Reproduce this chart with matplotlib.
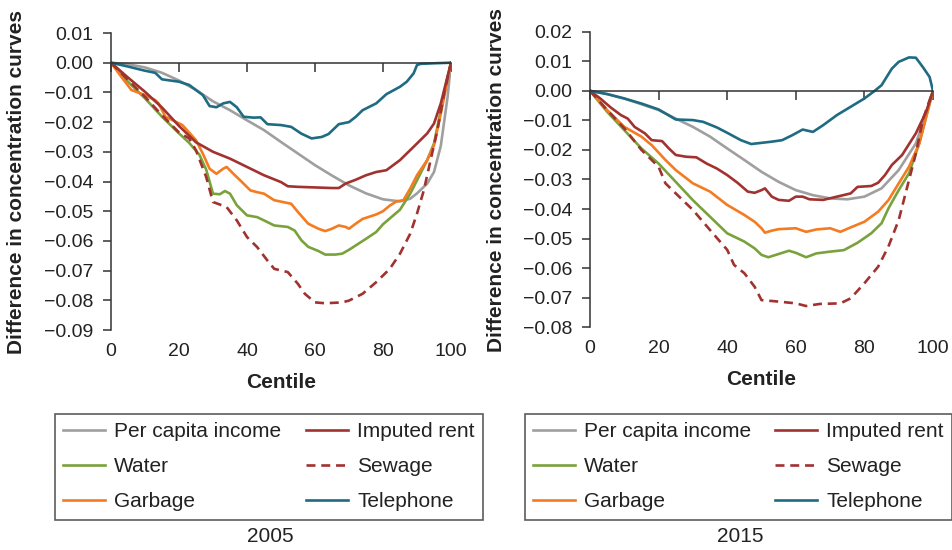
import matplotlib
matplotlib.use("Agg")
import matplotlib.pyplot as plt
from matplotlib.ticker import FuncFormatter

plt.rcParams['font.family'] = ['Liberation Sans', 'DejaVu Sans']

# ---------------- 2005 ----------------
inc05_x = [0, 5, 10, 15, 20, 25, 30, 35, 40, 45, 50, 55, 60, 65, 70, 75, 80, 85, 88, 90, 93, 95, 97, 99, 100]
inc05_y = [0, -0.0005, -0.0016, -0.0034, -0.006, -0.0092, -0.013, -0.016, -0.0194, -0.0227, -0.0267, -0.0306,
           -0.0345, -0.038, -0.0413, -0.044, -0.046, -0.0467, -0.0458, -0.044, -0.0407, -0.0368, -0.028, -0.0115, 0]

rent05_x = [0, 5, 10, 15, 20, 25, 30, 35, 40, 45, 50, 52, 55, 60, 65, 67, 69, 72, 75, 78, 81, 85, 90, 93, 95, 97, 100]
rent05_y = [0, -0.005, -0.0098, -0.0151, -0.0213, -0.0268, -0.030, -0.0323, -0.0351, -0.0379, -0.0402, -0.0416,
            -0.0418, -0.042, -0.0422, -0.0422, -0.0407, -0.0394, -0.0379, -0.0368, -0.0362, -0.0328, -0.0272,
            -0.0238, -0.0205, -0.0137, 0]

water05_x = [0, 5, 10, 15, 20, 23, 26, 28, 30, 32, 33.5, 35, 37, 40, 43, 45, 48, 52, 54, 56, 58, 61, 63, 66, 68,
             70, 75, 78, 80, 85, 88, 90, 93, 95, 97, 99, 100]
water05_y = [0, -0.0064, -0.012, -0.0182, -0.0238, -0.027, -0.031, -0.036, -0.0441, -0.0443, -0.0432, -0.0441,
             -0.048, -0.0514, -0.052, -0.0531, -0.0548, -0.0553, -0.0565, -0.0598, -0.062, -0.0634, -0.0646,
             -0.0646, -0.0643, -0.063, -0.0593, -0.057, -0.0544, -0.0495, -0.0441, -0.0396, -0.0328, -0.0272,
             -0.016, -0.0047, 0]

sew05_x = [0, 5, 10, 15, 20, 23, 25, 28, 30, 34, 37, 40, 43, 46, 48, 52, 55, 57, 60, 63, 68, 70, 74, 78, 82, 85,
           88, 90, 92, 94, 96, 98, 100]
sew05_y = [0, -0.0058, -0.0115, -0.0177, -0.0235, -0.0255, -0.0295, -0.0385, -0.0469, -0.0486, -0.0531, -0.0587,
           -0.0621, -0.0666, -0.0694, -0.0705, -0.0745, -0.0778, -0.0807, -0.081, -0.0807, -0.0801, -0.0778,
           -0.0739, -0.0694, -0.0643, -0.0576, -0.0508, -0.043, -0.0328, -0.0227, -0.0103, 0]

garb05_x = [0, 3, 6, 10, 13, 14, 16, 18, 21, 25, 27, 29, 31, 33, 34, 36, 38, 41, 43, 45, 48, 53, 55, 58, 61, 63,
            65, 67, 69, 70, 72, 74, 78, 80, 82, 84, 86, 88, 90, 93, 95, 97, 99, 100]
garb05_y = [0, -0.0047, -0.0092, -0.0109, -0.0126, -0.0137, -0.0182, -0.0193, -0.021, -0.0261, -0.0306, -0.0357,
            -0.0374, -0.0357, -0.0351, -0.0374, -0.0396, -0.043, -0.0436, -0.0441, -0.0463, -0.0475, -0.0503,
            -0.0542, -0.0559, -0.0567, -0.0559, -0.0548, -0.0553, -0.0559, -0.0542, -0.0526, -0.0511, -0.05,
            -0.0481, -0.0467, -0.0463, -0.0424, -0.0379, -0.0328, -0.0278, -0.0171, -0.0058, 0]

tel05_x = [0, 5, 10, 13, 15, 20, 23, 27, 29, 31, 33, 35, 37, 39, 42, 44, 46, 50, 53, 56, 59, 62, 64, 67, 70, 72,
           74, 78, 81, 85, 87, 89, 90, 91, 95, 100]
tel05_y = [0, -0.0013, -0.0027, -0.0034, -0.0056, -0.0064, -0.0075, -0.0109, -0.0146, -0.015, -0.0137, -0.0132,
           -0.015, -0.0182, -0.0185, -0.0184, -0.0207, -0.021, -0.0216, -0.0239, -0.0255, -0.025, -0.024, -0.0207,
           -0.02, -0.0182, -0.016, -0.0137, -0.0106, -0.0081, -0.0064, -0.0036, -0.0008, -0.0004, -0.0002, 0]

# ---------------- 2015 ----------------
inc15_x = [0, 5, 10, 20, 25, 30, 35, 40, 45, 50, 55, 60, 65, 70, 75, 80, 85, 90, 95, 98, 100]
inc15_y = [0, -0.0011, -0.0026, -0.0065, -0.0094, -0.0122, -0.0155, -0.0195, -0.0234, -0.0274, -0.0308, -0.0336,
           -0.0353, -0.0364, -0.0367, -0.0358, -0.033, -0.0268, -0.0178, -0.0077, 0]

rent15_x = [0, 3, 6, 9, 11, 13, 16, 18, 21, 23, 25, 28, 31, 34, 37, 40, 43, 46, 48, 50, 51, 53, 55, 58, 60, 62,
            64, 68, 72, 76, 78, 82, 84, 86, 88, 91, 95, 98, 100]
rent15_y = [0, -0.0026, -0.0056, -0.0082, -0.0094, -0.0122, -0.0144, -0.0167, -0.017, -0.0195, -0.0217, -0.0223,
            -0.0225, -0.0246, -0.0263, -0.0285, -0.0311, -0.0341, -0.0345, -0.0336, -0.033, -0.0358, -0.0369,
            -0.0372, -0.0358, -0.0358, -0.0367, -0.0369, -0.0358, -0.0347, -0.0325, -0.0322, -0.0311, -0.0285,
            -0.0251, -0.0217, -0.0144, -0.0071, 0]

water15_x = [0, 5, 10, 15, 20, 25, 30, 35, 40, 45, 48, 50, 52, 55, 58, 60, 63, 66, 70, 74, 78, 82, 85, 87, 90,
             93, 96, 98, 100]
water15_y = [0, -0.0071, -0.0133, -0.0195, -0.0246, -0.0308, -0.037, -0.0426, -0.0482, -0.051, -0.0533, -0.0555,
             -0.0563, -0.0552, -0.0541, -0.0548, -0.0563, -0.055, -0.0544, -0.0539, -0.0514, -0.0482, -0.0448,
             -0.0398, -0.0336, -0.0279, -0.0178, -0.0088, 0]

sew15_x = [0, 5, 10, 15, 20, 22, 25, 30, 35, 40, 42, 45, 48, 50, 55, 60, 63, 67, 73, 76, 80, 84, 87, 90, 93, 95,
           97, 99, 100]
sew15_y = [0, -0.0065, -0.0127, -0.02, -0.0257, -0.0313, -0.0347, -0.0403, -0.0471, -0.0538, -0.0589, -0.0617,
           -0.0663, -0.0708, -0.0713, -0.0719, -0.0728, -0.0721, -0.0719, -0.0702, -0.0651, -0.0595, -0.0527,
           -0.0437, -0.0302, -0.0212, -0.0099, -0.0032, 0]

garb15_x = [0, 5, 10, 15, 18, 22, 25, 30, 35, 40, 45, 48, 50, 51, 53, 55, 60, 63, 66, 70, 73, 76, 80, 84, 87, 90,
            93, 96, 98, 100]
garb15_y = [0, -0.0065, -0.0122, -0.0155, -0.0184, -0.0234, -0.0268, -0.0313, -0.0341, -0.0386, -0.042, -0.0443,
            -0.0465, -0.048, -0.0473, -0.0468, -0.0465, -0.0477, -0.0469, -0.0465, -0.0477, -0.0462, -0.0443,
            -0.0409, -0.037, -0.0313, -0.0257, -0.0178, -0.0088, 0]

tel15_x = [0, 5, 10, 15, 20, 25, 30, 33, 37, 40, 44, 47, 50, 53, 56, 59, 62, 65, 68, 72, 76, 80, 83, 85, 88, 90,
           93, 95, 97, 99, 100]
tel15_y = [0, -0.0011, -0.0026, -0.0043, -0.0063, -0.0097, -0.0099, -0.0105, -0.0124, -0.0142, -0.0167, -0.018,
           -0.0176, -0.0172, -0.0167, -0.015, -0.0131, -0.0139, -0.0116, -0.0082, -0.0054, -0.0026, 0.0, 0.0019,
           0.0075, 0.0098, 0.0113, 0.0112, 0.0081, 0.0047, 0]

labels = ["Per capita income", "Water", "Garbage", "Imputed rent", "Sewage", "Telephone"]
years = ["2005", "2015"]
x_ticks = [0, 20, 40, 60, 80, 100]

C_INC = '#9f9f9f'
C_RENT = '#a1322f'
C_WAT = '#7aa23c'
C_GARB = '#f47b20'
C_TEL = '#1e6b82'

fig = plt.figure(figsize=(9.53, 5.5), dpi=100)

panels = [
    dict(rect=[111/953, 1-330/550, 340/953, 297/550], ylim=(-0.09, 0.01),
         yt=[i/100 for i in range(-9, 2)],
         data=[(inc05_x, inc05_y), (water05_x, water05_y), (garb05_x, garb05_y),
               (rent05_x, rent05_y), (sew05_x, sew05_y), (tel05_x, tel05_y)],
         leg=(55/953, 1-414/550, 428/953), year=years[0], yx=270/953),
    dict(rect=[590/953, 1-327.3/550, 343/953, 295.6/550], ylim=(-0.08, 0.02),
         yt=[i/100 for i in range(-8, 3)],
         data=[(inc15_x, inc15_y), (water15_x, water15_y), (garb15_x, garb15_y),
               (rent15_x, rent15_y), (sew15_x, sew15_y), (tel15_x, tel15_y)],
         leg=(525/953, 1-414/550, 427/953), year=years[1], yx=740/953),
]

styles = [
    dict(color=C_INC, lw=1.9),
    dict(color=C_WAT, lw=1.9),
    dict(color=C_GARB, lw=1.9),
    dict(color=C_RENT, lw=1.9),
    dict(color=C_RENT, lw=1.9, linestyle=(0, (3.4, 2.2))),
    dict(color=C_TEL, lw=1.9),
]

fmt = FuncFormatter(lambda v, p: ("%.2f" % v).replace('-', '\u2212') if abs(v) > 1e-9 else "0.00")

for pnl in panels:
    ax = fig.add_axes(pnl['rect'])
    handles = []
    for (xs, ys), st, lab in zip(pnl['data'], styles, labels):
        h, = ax.plot(xs, ys, label=lab, solid_joinstyle='round', **st)
        handles.append(h)
    ax.set_xlim(0, 100)
    ax.set_ylim(*pnl['ylim'])
    ax.set_yticks(pnl['yt'])
    ax.yaxis.set_major_formatter(fmt)
    for s in ['top', 'right']:
        ax.spines[s].set_visible(False)
    for s in ['left', 'bottom']:
        ax.spines[s].set_color('#333333')
        ax.spines[s].set_linewidth(1.1)
    ax.spines['bottom'].set_position(('data', 0))
    ax.set_xticks(x_ticks)
    ax.tick_params(axis='x', direction='out', length=6.5, width=1.1, color='#333333',
                   labelbottom=False)
    ax.tick_params(axis='y', direction='out', length=5.5, width=1.1, color='#333333',
                   labelsize=14, pad=7, labelcolor='#222222')
    sec = ax.secondary_xaxis('bottom')
    sec.set_xticks(x_ticks)
    sec.tick_params(length=0, labelsize=14, pad=9, labelcolor='#222222')
    sec.spines['bottom'].set_visible(False)
    ax.set_ylabel("Difference in concentration curves", fontsize=15, fontweight='bold',
                  va='center', color='#222222')
    ax.yaxis.set_label_coords(-94/pnl['rect'][2]/953, 0.5)
    ax.text(0.5, -52/297, "Centile", transform=ax.transAxes, ha='center', va='center',
            fontsize=15, fontweight='bold', color='#222222')

    lx, ly, lw = pnl['leg']
    leg = fig.legend(handles=handles, labels=labels, ncol=2, loc='upper left',
                     bbox_to_anchor=(lx, ly - 0.3, lw, 0.3), mode='expand',
                     fontsize=15, frameon=True, fancybox=False, edgecolor='#333333',
                     handlelength=2.0, handletextpad=0.45, labelspacing=0.77,
                     borderpad=0.4, borderaxespad=0, columnspacing=1.0)
    leg.get_frame().set_linewidth(1.2)
    for t in leg.get_texts():
        t.set_color('#222222')
    fig.text(pnl['yx'], 1-537/550, pnl['year'], ha='center', va='center', fontsize=15,
             color='#222222')

fig.savefig("out.png", dpi=100)
